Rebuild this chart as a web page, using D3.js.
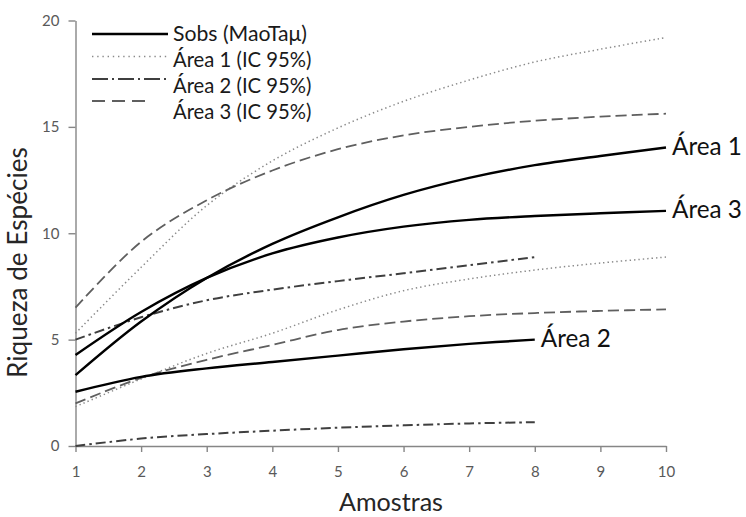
<!DOCTYPE html>
<html>
<head>
<meta charset="utf-8">
<script src="https://cdn.jsdelivr.net/npm/d3@7"></script>
<style>
  html, body { margin: 0; padding: 0; background: #fff; }
  svg { display: block; }
  text { font-family: Lato, "Open Sans", sans-serif; }
</style>
</head>
<body>
<svg id="chart" width="746" height="517"></svg>
<script>
// ---- data ----
const samplesAll = [1, 2, 3, 4, 5, 6, 7, 8, 9, 10];
const samplesArea2 = [1, 2, 3, 4, 5, 6, 7, 8];
const sobsArea1 = [3.33, 5.85, 7.9, 9.5, 10.75, 11.8, 12.6, 13.2, 13.63, 14.03];
const sobsArea2 = [2.55, 3.25, 3.65, 3.95, 4.25, 4.55, 4.8, 5.0];
const sobsArea3 = [4.28, 6.3, 7.9, 9.05, 9.8, 10.31, 10.63, 10.81, 10.94, 11.05];
const area1Upper = [5.3, 8.4, 11.3, 13.4, 14.95, 16.2, 17.2, 18.05, 18.65, 19.2];
const area1Lower = [1.85, 3.15, 4.35, 5.3, 6.4, 7.3, 7.85, 8.27, 8.6, 8.88];
const area2Upper = [5.0, 6.05, 6.85, 7.35, 7.75, 8.12, 8.5, 8.88];
const area2Lower = [0.0, 0.35, 0.56, 0.72, 0.86, 0.97, 1.06, 1.12];
const area3Upper = [6.5, 9.6, 11.55, 12.95, 13.95, 14.6, 15.0, 15.29, 15.48, 15.62];
const area3Lower = [2.0, 3.2, 4.05, 4.75, 5.45, 5.85, 6.1, 6.25, 6.35, 6.42];
const yTicks = [0, 5, 10, 15, 20];
const xTicks = [1, 2, 3, 4, 5, 6, 7, 8, 9, 10];
const legendLabels = ["Sobs (MaoTaμ)", "Área 1 (IC 95%)", "Área 2 (IC 95%)", "Área 3 (IC 95%)"];
const endLabels = ["Área 1", "Área 2", "Área 3"];
const xTitle = "Amostras";
const yTitle = "Riqueza de Espécies";

// ---- styles ----
const styles = {
  solid:   { stroke: "#000", width: 2.4, dash: null },
  dotted:  { stroke: "#8a8a8a", width: 1.5, dash: "1.4,3" },
  dashdot: { stroke: "#3f3f3f", width: 2.0, dash: "10,4,2.5,4" },
  dashed:  { stroke: "#5f5f5f", width: 1.8, dash: "11,5" }
};

const svg = d3.select("#chart");
const x = d3.scaleLinear().domain([1, 10]).range([75.5, 666]);
const y = d3.scaleLinear().domain([0, 20]).range([446, 20.5]);

function fit(sel, w) {
  const t = sel.node().getComputedTextLength();
  const fs = parseFloat(sel.attr("font-size"));
  sel.attr("font-size", fs * w / t);
}

// ---- axes ----
const yAxis = svg.append("g").attr("transform", "translate(75.5,0)")
  .call(d3.axisLeft(y).tickValues(yTicks).tickSize(7).tickSizeOuter(0).tickPadding(9));
const xAxis = svg.append("g").attr("transform", "translate(0,446)")
  .call(d3.axisBottom(x).tickValues(xTicks).tickSize(6).tickSizeOuter(0).tickPadding(14));
[yAxis, xAxis].forEach(g => {
  g.select(".domain").attr("stroke", "#868686").attr("stroke-width", 1.4);
  g.selectAll(".tick line").attr("stroke", "#868686").attr("stroke-width", 1.4);
  g.selectAll(".tick text").attr("fill", "#595959").attr("font-size", 15)
    .style("font-family", "Lato, sans-serif");
});

// ---- series ----
const line = d3.line().x(d => x(d[0])).y(d => y(d[1])).curve(d3.curveCatmullRom.alpha(0.5));
const series = [
  { xs: samplesAll, ys: area1Upper, st: styles.dotted },
  { xs: samplesAll, ys: area1Lower, st: styles.dotted },
  { xs: samplesArea2, ys: area2Upper, st: styles.dashdot },
  { xs: samplesArea2, ys: area2Lower, st: styles.dashdot },
  { xs: samplesAll, ys: area3Upper, st: styles.dashed },
  { xs: samplesAll, ys: area3Lower, st: styles.dashed },
  { xs: samplesAll, ys: sobsArea1, st: styles.solid },
  { xs: samplesArea2, ys: sobsArea2, st: styles.solid },
  { xs: samplesAll, ys: sobsArea3, st: styles.solid }
];
svg.append("g").selectAll("path").data(series).join("path")
  .attr("d", s => line(s.xs.map((v, i) => [v, s.ys[i]])))
  .attr("fill", "none")
  .attr("stroke", s => s.st.stroke)
  .attr("stroke-width", s => s.st.width)
  .attr("stroke-dasharray", s => s.st.dash);

// ---- end labels ----
const endData = [
  { label: endLabels[0], xv: samplesAll[samplesAll.length - 1], yv: sobsArea1[sobsArea1.length - 1] },
  { label: endLabels[1], xv: samplesArea2[samplesArea2.length - 1], yv: sobsArea2[sobsArea2.length - 1] },
  { label: endLabels[2], xv: samplesAll[samplesAll.length - 1], yv: sobsArea3[sobsArea3.length - 1] }
];
endData.forEach(d => {
  const t = svg.append("text")
    .attr("x", x(d.xv) + 6).attr("y", y(d.yv) + 7)
    .attr("font-size", 24).attr("fill", "#111").text(d.label);
  fit(t, 70);
});

// ---- legend ----
const legendStyles = [
  styles.solid,
  { stroke: "#8a8a8a", width: 1.5, dash: "1.4,3.8" },
  { stroke: "#3f3f3f", width: 2.0, dash: "16,4,2,4" },
  { stroke: "#5f5f5f", width: 1.8, dash: "13,7,13,7,13,27,1.5,5" }
];
const legendLineY = [34, 56.5, 79, 101];
const legendTextY = [40.7, 66.7, 92.5, 119];
const legendWidths = [134, 138.5, 138.5, 138.5];
legendLabels.forEach((lab, i) => {
  svg.append("line").attr("x1", 92).attr("x2", 168)
    .attr("y1", legendLineY[i]).attr("y2", legendLineY[i])
    .attr("stroke", legendStyles[i].stroke)
    .attr("stroke-width", legendStyles[i].width)
    .attr("stroke-dasharray", legendStyles[i].dash);
  const t = svg.append("text").attr("x", 173).attr("y", legendTextY[i])
    .attr("font-size", 20).attr("fill", "#1a1a1a").text(lab);
  fit(t, legendWidths[i]);
});

// ---- titles ----
const xt = svg.append("text").attr("x", 391).attr("y", 511)
  .attr("text-anchor", "middle").attr("font-size", 25).attr("fill", "#262626").text(xTitle);
fit(xt, 104);
const yt = svg.append("text")
  .attr("transform", "translate(26.5,262.5) rotate(-90)")
  .attr("text-anchor", "middle").attr("font-size", 25).attr("fill", "#262626").text(yTitle);
fit(yt, 231);
</script>
</body>
</html>
